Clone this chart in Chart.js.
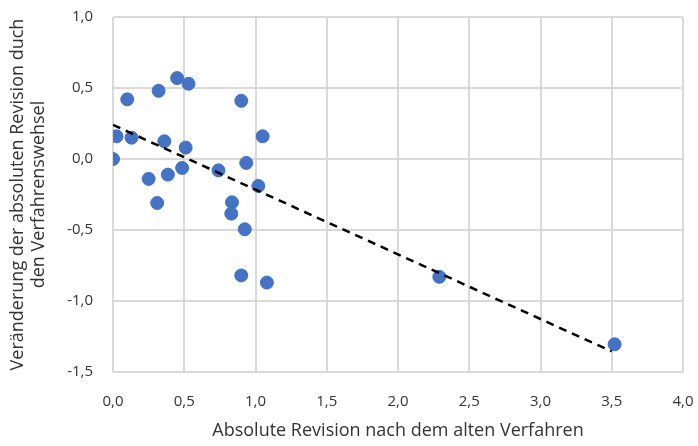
<!DOCTYPE html>
<html>
<head>
<meta charset="utf-8">
<script src="https://cdn.jsdelivr.net/npm/chart.js@4/dist/chart.umd.min.js"></script>
<style>
  html, body { margin: 0; padding: 0; background: #fff; }
  #wrap { width: 698px; height: 446px; position: relative; }
</style>
</head>
<body>
<div id="wrap"><canvas id="c"></canvas></div>
<script>
// Absolute revision (old method) vs. change of the absolute revision
const xValues = [0.00, 0.025, 0.10, 0.13, 0.32, 0.45, 0.53, 0.36, 0.51, 0.25, 0.385, 0.485, 0.31,
                 0.74, 0.90, 0.935, 1.05, 1.02, 0.835, 0.83, 0.925, 0.90, 1.08, 2.29, 3.52];
const yValues = [0.00, 0.16, 0.42, 0.15, 0.48, 0.57, 0.53, 0.125, 0.08, -0.14, -0.11, -0.063, -0.31,
                 -0.08, 0.41, -0.028, 0.16, -0.19, -0.305, -0.385, -0.495, -0.82, -0.87, -0.83, -1.305];
// linear trend line endpoints
const trendX = [0.0, 3.5];
const trendY = [0.24, -1.355];

const xTicks = [0, 0.5, 1, 1.5, 2, 2.5, 3, 3.5, 4];
const yTicks = [-1.5, -1, -0.5, 0, 0.5, 1];

const fmt = v => v.toFixed(1).replace('.', ',');
const FONT = '"Open Sans", "Noto Sans", sans-serif';
const TEXT = '#333333';

new Chart(document.getElementById('c'), {
  type: 'scatter',
  data: {
    datasets: [
      {
        label: 'Revision',
        data: xValues.map((x, i) => ({ x, y: yValues[i] })),
        backgroundColor: '#4472c4',
        borderColor: '#4472c4',
        pointRadius: 6.5,
        order: 2
      },
      {
        type: 'line',
        label: 'Trend',
        data: trendX.map((x, i) => ({ x, y: trendY[i] })),
        borderColor: '#000',
        borderWidth: 2.5,
        borderDash: [8, 6],
        pointRadius: 0,
        fill: false,
        order: 1
      }
    ]
  },
  options: {
    responsive: true,
    maintainAspectRatio: false,
    animation: false,
    layout: { padding: { left: 0, right: 0, top: 0, bottom: 0 } },
    plugins: { legend: { display: false }, tooltip: { enabled: false } },
    scales: {
      x: {
        type: 'linear',
        min: 0, max: 4,
        afterBuildTicks: s => { s.ticks = xTicks.map(v => ({ value: v })); },
        ticks: { callback: fmt, color: TEXT, font: { family: FONT, size: 15 }, padding: 21 },
        grid: { color: '#d9d9d9', lineWidth: 2, drawTicks: false },
        border: { display: false },
        title: { display: true, text: 'Absolute Revision nach dem alten Verfahren',
                 color: TEXT, font: { family: FONT, size: 18 }, padding: { top: 9 } },
        afterFit: s => { s.height = 74; s.paddingLeft = 0; s.paddingRight = 15; }
      },
      y: {
        type: 'linear',
        min: -1.5, max: 1,
        afterBuildTicks: s => { s.ticks = yTicks.map(v => ({ value: v })); },
        ticks: { callback: fmt, color: TEXT, font: { family: FONT, size: 15 }, padding: 20 },
        grid: { color: '#d9d9d9', lineWidth: 2, drawTicks: false },
        border: { display: false },
        title: { display: true, text: ['Veränderung der absoluten Revision duch', 'den Verfahrenswehsel'],
                 color: TEXT, font: { family: FONT, size: 18, lineHeight: 1.15 }, padding: { top: 8, bottom: 4 } },
        afterFit: s => { s.width = 113; s.paddingTop = 17; s.paddingBottom = 0; }
      }
    }
  }
});
</script>
</body>
</html>
